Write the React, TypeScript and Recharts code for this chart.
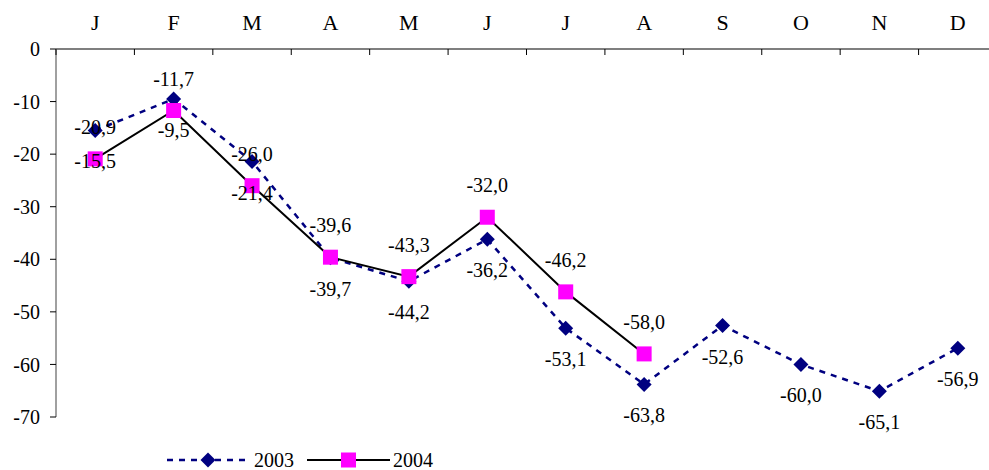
import { LineChart, Line, XAxis, YAxis, Legend, LabelList } from "recharts";

const months = ["J", "F", "M", "A", "M", "J", "J", "A", "S", "O", "N", "D"];
const values2003 = [-15.5, -9.5, -21.4, -39.7, -44.2, -36.2, -53.1, -63.8, -52.6, -60.0, -65.1, -56.9];
const values2004 = [-20.9, -11.7, -26.0, -39.6, -43.3, -32.0, -46.2, -58.0];
const yTicks = [0, -10, -20, -30, -40, -50, -60, -70];

const data = months.map((m, i) => ({
  x: i + 0.5,
  month: m,
  y2003: values2003[i],
  y2004: i < values2004.length ? values2004[i] : null,
}));

// ticks at category boundaries (integers) and centres (halves, for labels)
const xTicks = [...months.flatMap((_, i) => [i, i + 0.5]), months.length];

const FONT = "'Liberation Serif', 'Times New Roman', serif";
const PLOT_TOP = 49;
const NAVY = "#000080";
const MAGENTA = "#FF00FF";

const fmt = (v: number) => v.toFixed(1).replace(".", ",");

const MonthTick = (props: any) => {
  const { x, payload } = props;
  const v = payload.value as number;
  if (Number.isInteger(v)) {
    return <line x1={x} x2={x} y1={PLOT_TOP} y2={PLOT_TOP + 6} stroke="#000" strokeWidth={1} />;
  }
  return (
    <text x={x} y={30} textAnchor="middle" fontFamily={FONT} fontSize={22} fill="#000">
      {months[Math.floor(v)]}
    </text>
  );
};

const Diamond = (props: any) => {
  const { cx, cy, index } = props;
  if (cx == null || cy == null) return <g key={`d${index}`} />;
  const r = 7.5;
  return (
    <path
      key={`d${index}`}
      d={`M${cx},${cy - r}L${cx + r},${cy}L${cx},${cy + r}L${cx - r},${cy}Z`}
      fill={NAVY}
    />
  );
};

const Square = (props: any) => {
  const { cx, cy, index } = props;
  if (cx == null || cy == null) return <g key={`s${index}`} />;
  return <rect key={`s${index}`} x={cx - 7.5} y={cy - 7.5} width={15} height={15} fill={MAGENTA} />;
};

const makeLabel = (dy: number) => (props: any) => {
  const { x, y, value } = props;
  if (value == null || y == null) return null;
  return (
    <text x={x} y={y + dy} textAnchor="middle" fontFamily={FONT} fontSize={20} fill="#000">
      {fmt(value)}
    </text>
  );
};

const LegendContent = () => (
  <svg width={300} height={32} style={{ display: "block" }}>
    <line x1={0} x2={83} y1={14} y2={14} stroke={NAVY} strokeWidth={2.5} strokeDasharray="6 6" />
    <path d="M41,6.5L48.5,14L41,21.5L33.5,14Z" fill={NAVY} />
    <text x={87} y={21} fontFamily={FONT} fontSize={20} fill="#000">2003</text>
    <line x1={140} x2={223} y1={14} y2={14} stroke="#000" strokeWidth={2} />
    <rect x={174} y={6.5} width={15} height={15} fill={MAGENTA} />
    <text x={226} y={21} fontFamily={FONT} fontSize={20} fill="#000">2004</text>
  </svg>
);

export default function App() {
  return (
    <div style={{ position: "absolute", left: 0, top: 0, width: 989, height: 470, overflow: "hidden", background: "#fff" }}>
      <LineChart width={1005} height={470} data={data} margin={{ top: 0, right: 8, bottom: 53, left: 0 }}>
        <XAxis
          dataKey="x"
          type="number"
          orientation="top"
          domain={[0, 12]}
          ticks={xTicks}
          interval={0}
          height={49}
          axisLine={{ stroke: "#000", strokeWidth: 1.2 }}
          tickLine={false}
          tick={<MonthTick />}
        />
        <YAxis
          type="number"
          domain={[-70, 0]}
          ticks={yTicks}
          width={56}
          interval={0}
          axisLine={{ stroke: "#808080", strokeWidth: 1.5 }}
          tickLine={{ stroke: "#000" }}
          tickSize={6}
          tickMargin={10}
          tick={{ fontFamily: FONT, fontSize: 20, fill: "#000" }}
        />
        <Legend
          layout="horizontal"
          verticalAlign="middle"
          align="center"
          wrapperStyle={{ left: 167, top: 446, width: 300, height: 32 }}
          content={<LegendContent />}
        />
        <Line
          dataKey="y2003"
          stroke={NAVY}
          strokeWidth={2.5}
          strokeDasharray="6 6"
          dot={Diamond}
          activeDot={false}
          isAnimationActive={false}
        >
          <LabelList dataKey="y2003" content={makeLabel(38)} />
        </Line>
        <Line
          dataKey="y2004"
          stroke="#000"
          strokeWidth={2}
          dot={Square}
          activeDot={false}
          isAnimationActive={false}
        >
          <LabelList dataKey="y2004" content={makeLabel(-25)} />
        </Line>
      </LineChart>
    </div>
  );
}
